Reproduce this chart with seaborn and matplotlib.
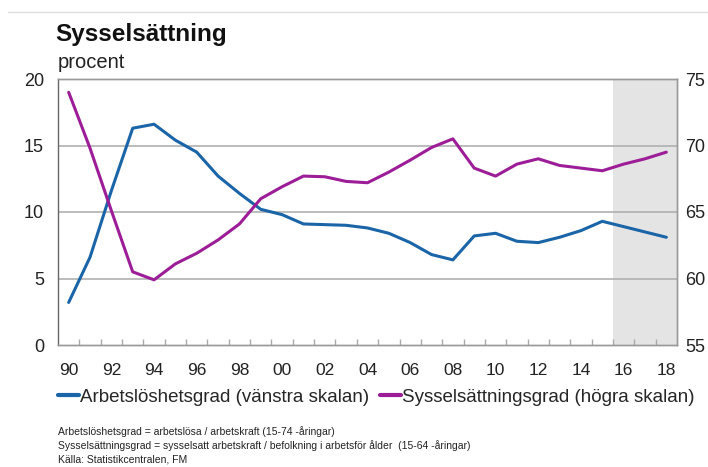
import matplotlib
matplotlib.use("Agg")
import matplotlib.pyplot as plt
import seaborn as sns
import pandas as pd
from matplotlib.ticker import FixedLocator, FuncFormatter
from matplotlib.lines import Line2D

sns.set_theme(style="white")
plt.rcParams['font.family'] = ['Liberation Sans', 'DejaVu Sans']

years = list(range(1990, 2019))
arbetsloshet = [3.2, 6.6, 11.6, 16.3, 16.6, 15.4, 14.5, 12.7, 11.4, 10.2,
                9.8, 9.1, 9.05, 9.0, 8.8, 8.4, 7.7, 6.8, 6.4, 8.2,
                8.4, 7.8, 7.7, 8.1, 8.6, 9.3, 8.9, 8.5, 8.1]
sysselsattning = [74.0, 69.8, 65.1, 60.5, 59.9, 61.1, 61.9, 62.9, 64.1, 66.0,
                  66.9, 67.7, 67.65, 67.3, 67.2, 68.0, 68.9, 69.85, 70.5, 68.3,
                  67.7, 68.6, 69.0, 68.5, 68.3, 68.1, 68.6, 69.0, 69.5]
left_ticks = [0, 5, 10, 15, 20]
right_ticks = [55, 60, 65, 70, 75]
year_ticks = list(range(1990, 2019, 2))
forecast_start = 2015.5

df = pd.DataFrame({"year": years, "arb": arbetsloshet, "sys": sysselsattning})

blue = "#1a64a8"
purple = "#9c1d97"
grid_c = "#b0b0b0"

fig = plt.figure(figsize=(7.08, 4.67), dpi=100)
ax = fig.add_axes([58/708, 1-345/467, (677-58)/708, (345-79)/467])
ax2 = ax.twinx()

ax.axvspan(forecast_start, years[-1] + 0.5, color="#e4e4e4", zorder=0, lw=0)
for v in left_ticks[1:-1]:
    ax.axhline(v, color=grid_c, lw=1.2, zorder=1)

sns.lineplot(data=df, x="year", y="arb", ax=ax, color=blue, lw=2.2, zorder=3)
sns.lineplot(data=df, x="year", y="sys", ax=ax2, color=purple, lw=2.2, zorder=3)

ax.set_xlim(years[0] - 0.5, years[-1] + 0.5)
ax.set_ylim(0, 20)
ax2.set_ylim(55, 75)
ax.set_yticks(left_ticks)
ax2.set_yticks(right_ticks)
ax.set_xticks(year_ticks)
ax.xaxis.set_major_formatter(FuncFormatter(lambda v, p: f"{int(v) % 100:02d}"))
ax.xaxis.set_minor_locator(FixedLocator([y + 0.5 for y in years[:-1]]))
ax.tick_params(axis="x", which="major", length=0, labelsize=12.5, pad=13, colors="#222222")
ax.tick_params(axis="x", which="minor", direction="in", length=4, color="#aaaaaa", bottom=True)
ax.tick_params(axis="y", length=0, labelsize=13, pad=10, colors="#222222")
ax2.tick_params(axis="y", length=0, labelsize=13, pad=6, colors="#222222")
for a in (ax, ax2):
    a.set_xlabel("")
    a.set_ylabel("")
    for s in a.spines.values():
        s.set_color("#999999")
        s.set_linewidth(1.0)
ax.spines["left"].set_color("#666666")
ax2.spines["left"].set_visible(False)

fig.add_artist(Line2D([8/708, 1], [1-12/467, 1-12/467], color="#dddddd", lw=1))
fig.text(55/708, 1-35/467, "Sysselsättning", fontsize=17.5, fontweight="bold", va="center", color="#111111")
fig.text(58/708, 1-62/467, "procent", fontsize=14.5, va="center", color="#222222")

handles = [Line2D([], [], color=blue, lw=3), Line2D([], [], color=purple, lw=3)]
labels = ["Arbetslöshetsgrad (vänstra skalan)", "Sysselsättningsgrad (högra skalan)"]
fig.legend(handles, labels, loc="center left", bbox_to_anchor=(58/708, 1-397/467), ncol=2,
           frameon=False, fontsize=13.5, handlelength=1.1, handletextpad=0.1,
           columnspacing=0.55, borderaxespad=0, borderpad=0)

notes = ["Arbetslöshetsgrad = arbetslösa / arbetskraft (15-74 -åringar)",
         "Sysselsättningsgrad = sysselsatt arbetskraft / befolkning i arbetsför ålder  (15-64 -åringar)",
         "Källa: Statistikcentralen, FM"]
for i, t in enumerate(notes):
    fig.text(58/708, 1-(432 + 14*i)/467, t, fontsize=7.5, va="center", color="#222222")

fig.savefig("out.png", dpi=100)
